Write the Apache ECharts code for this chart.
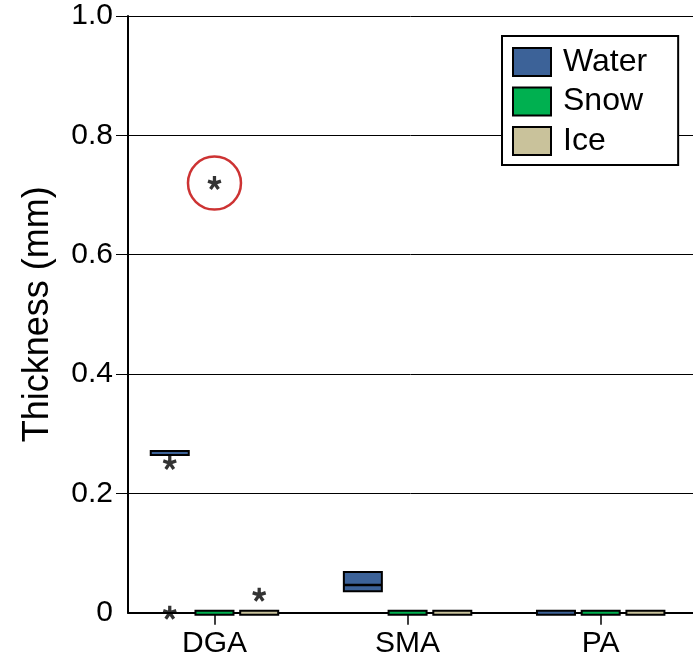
<!DOCTYPE html>
<html>
<head>
<meta charset="utf-8">
<script src="https://cdn.jsdelivr.net/npm/echarts@6/dist/echarts.min.js"></script>
<style>
  html, body { margin: 0; padding: 0; background: #fff; }
  #chart { width: 693px; height: 659px; }
</style>
</head>
<body>
<div id="chart"></div>
<script>
// groups on the x axis
const categories = ['DGA', 'SMA', 'PA'];

// box values per group: [q1, median, q3]
const waterBoxes = [[0.2655, 0.268, 0.2695], [0.0359, 0.0464, 0.0682], [0, 0, 0]];
const snowBoxes = [[0, 0, 0], [0, 0, 0], [0, 0, 0]];
const iceBoxes = [[0, 0, 0], [0, 0, 0], [0, 0, 0]];

// extreme values (*): [group index, value]
const waterExtremes = [[0, 0.251], [0, 0]];
const snowExtremes = [[0, 0.72]];
const iceExtremes = [[0, 0.03]];

// the circled point
const circled = [[0, 0.72]];

const yTicks = [0, 0.2, 0.4, 0.6, 0.8, 1.0];

const colors = { Water: '#3c6298', Snow: '#00b050', Ice: '#c9c29b' };
const offsets = { Water: -0.2316, Snow: 0, Ice: 0.2316 };
const FONT = '"Liberation Sans", Arial, sans-serif';

// five armed asterisk as a filled path
function starPath() {
    const L = 50, w = 12;
    let d = '';
    [90, 18, 162, 234, 306].forEach(a => {
        const r = a * Math.PI / 180;
        const dx = Math.cos(r), dy = -Math.sin(r);
        const px = -dy * w, py = dx * w;
        const p = [
            [50 + px, 50 + py], [50 + dx * L + px, 50 + dy * L + py],
            [50 + dx * L - px, 50 + dy * L - py], [50 - px, 50 - py]
        ];
        d += 'M' + p.map(q => q[0].toFixed(2) + ' ' + q[1].toFixed(2)).join(' L') + ' Z ';
    });
    return 'path://' + d;
}
const STAR = starPath();

function boxData(boxes) {
    return boxes.map((b, i) => [i, b[0], b[1], b[2]]);
}

function boxRenderer(name) {
    return function (params, api) {
        const x = api.value(0) + offsets[name];
        const top = api.coord([x, api.value(3)]);
        const bot = api.coord([x, api.value(1)]);
        const mid = api.coord([x, api.value(2)]);
        const w = 38;
        let h = bot[1] - top[1];
        let y0 = top[1];
        const minH = 4;
        if (h < minH) {
            y0 = (top[1] + bot[1]) / 2 - minH / 2;
            h = minH;
        }
        const children = [{
            type: 'rect',
            shape: { x: mid[0] - w / 2, y: y0, width: w, height: h },
            style: { fill: colors[name], stroke: '#000', lineWidth: 2 }
        }];
        if (h > 8) {
            children.push({
                type: 'line',
                shape: { x1: mid[0] - w / 2, y1: mid[1], x2: mid[0] + w / 2, y2: mid[1] },
                style: { stroke: '#000', lineWidth: 2.5 }
            });
        }
        return { type: 'group', children: children };
    };
}

function extremeSeries(name, pts) {
    return {
        type: 'scatter',
        name: name + ' extremes',
        data: pts.map(p => [p[0] + offsets[name], p[1]]),
        symbol: STAR,
        symbolSize: 14,
        itemStyle: { color: '#000' },
        z: 5,
        silent: true
    };
}

const chart = echarts.init(document.getElementById('chart'), null, { renderer: 'canvas' });

chart.setOption({
    backgroundColor: '#fff',
    animation: false,
    textStyle: { fontFamily: FONT },
    grid: { left: 128, right: -10, top: 16, bottom: 46.3 },
    legend: {
        data: ['Water', 'Snow', 'Ice'],
        orient: 'vertical',
        left: 502,
        top: 36,
        icon: 'rect',
        itemWidth: 38,
        itemHeight: 28,
        itemGap: 7.5,
        padding: [10, 31, 8, 10],
        backgroundColor: '#fff',
        borderColor: '#000',
        borderWidth: 2,
        borderRadius: 0,
        itemStyle: { borderColor: '#000', borderWidth: 2 },
        textStyle: { fontSize: 32, color: '#000', fontFamily: FONT, padding: [0, 0, 0, 7] }
    },
    xAxis: {
        type: 'value',
        min: -0.4478,
        max: 2.478,
        axisLine: { show: true, onZero: false, lineStyle: { color: '#000', width: 2 } },
        axisTick: { show: true, customValues: [0, 1, 2], length: 12, lineStyle: { color: '#000', width: 1.5 } },
        axisLabel: {
            customValues: [0, 1, 2],
            formatter: v => categories[Math.round(v)],
            fontSize: 30, color: '#000', margin: 16, fontFamily: FONT
        },
        splitLine: { show: false }
    },
    yAxis: {
        type: 'value',
        min: 0,
        max: 1,
        interval: 0.2,
        name: 'Thickness (mm)',
        nameLocation: 'middle',
        nameGap: 72,
        nameTextStyle: { fontSize: 36, color: '#000', fontFamily: FONT },
        axisLine: { show: true, onZero: false, lineStyle: { color: '#000', width: 2 } },
        axisTick: { show: true, customValues: yTicks.slice(1), length: 12, lineStyle: { color: '#000', width: 1 } },
        axisLabel: {
            formatter: v => v === 0 ? '0' : v.toFixed(1),
            fontSize: 30, color: '#000', margin: 15, fontFamily: FONT
        },
        splitLine: { show: true, lineStyle: { color: '#000', width: 1 } }
    },
    series: [
        { type: 'custom', name: 'Water', itemStyle: { color: colors.Water }, renderItem: boxRenderer('Water'), data: boxData(waterBoxes), z: 3 },
        { type: 'custom', name: 'Snow', itemStyle: { color: colors.Snow }, renderItem: boxRenderer('Snow'), data: boxData(snowBoxes), z: 3 },
        { type: 'custom', name: 'Ice', itemStyle: { color: colors.Ice }, renderItem: boxRenderer('Ice'), data: boxData(iceBoxes), z: 3 },
        extremeSeries('Water', waterExtremes),
        extremeSeries('Snow', snowExtremes),
        extremeSeries('Ice', iceExtremes),
        {
            type: 'scatter',
            name: 'circled',
            data: circled.map(p => [p[0] + offsets.Snow, p[1]]),
            symbol: 'circle',
            symbolSize: 53,
            itemStyle: { color: 'rgba(0,0,0,0)', borderColor: '#c00000', borderWidth: 2.5 },
            z: 4,
            silent: true
        }
    ]
});
</script>
</body>
</html>
